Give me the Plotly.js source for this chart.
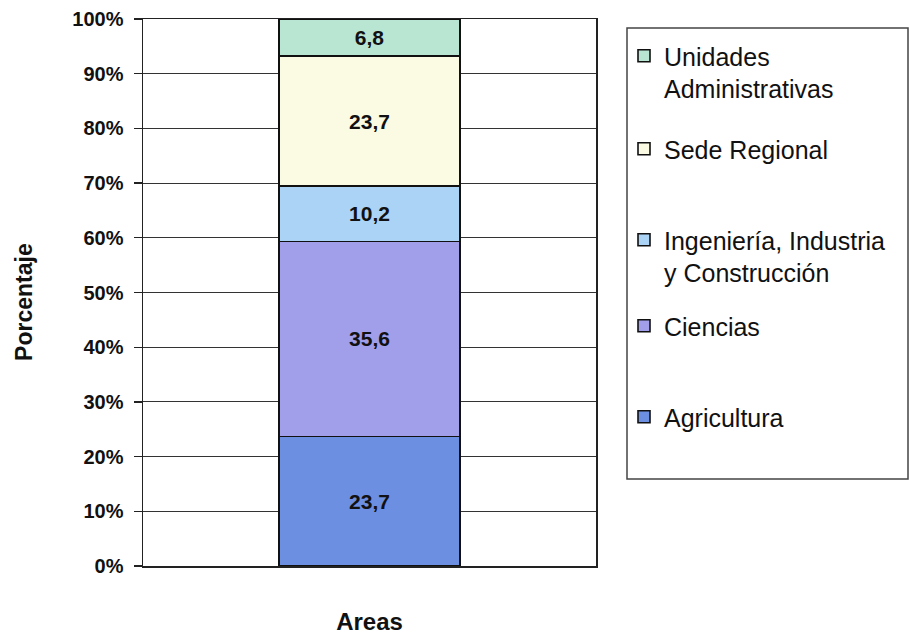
<!DOCTYPE html>
<html>
<head>
<meta charset="utf-8">
<script src="https://cdn.plot.ly/plotly-3.0.1.min.js"></script>
<style>html,body{margin:0;padding:0;background:#fff;}#chart{width:910px;height:637px;}</style>
</head>
<body>
<div id="chart"></div>
<script>
// Data
const categories = ['Areas'];
const seriesNames = ['Agricultura', 'Ciencias', 'Ingeniería, Industria<br>y Construcción', 'Sede Regional', 'Unidades<br>Administrativas'];
const agricultura = [23.7];
const ciencias = [35.6];
const ingenieria = [10.2];
const sedeRegional = [23.7];
const unidades = [6.8];
const seriesValues = [agricultura, ciencias, ingenieria, sedeRegional, unidades];
const yTickVals = [0, 10, 20, 30, 40, 50, 60, 70, 80, 90, 100];
const yTickText = ['0%', '10%', '20%', '30%', '40%', '50%', '60%', '70%', '80%', '90%', '100%'];

const colors = ['#6d8fe2', '#a19eea', '#aad3f6', '#fbfbe3', '#b9e5d3'];
const legendIds = ['legend5', 'legend4', 'legend3', 'legend2', 'legend'];
const FONT = 'Liberation Sans, Arial, sans-serif';

const traces = seriesValues.map((vals, i) => ({
  type: 'bar',
  name: seriesNames[i],
  x: categories,
  y: vals,
  legend: legendIds[i],
  marker: {color: colors[i], line: {color: '#111', width: 1.6}},
  texttemplate: '<b>%{y:.1f}</b>',
  textposition: 'inside',
  insidetextanchor: 'middle',
  textangle: 0,
  constraintext: 'none',
  textfont: {family: FONT, size: 21, color: '#111'},
  hoverinfo: 'name+y'
}));

// pixel -> paper helpers for legend placement (plot area 143..596 x 19..566)
const px = X => (X - 143) / 453;
const py = Y => (566 - Y) / 547;
const legTops = {legend: 33, legend2: 126, legend3: 217, legend4: 303, legend5: 394};
const legendCommon = {
  x: px(624), xanchor: 'left', yanchor: 'top',
  bgcolor: 'rgba(0,0,0,0)', borderwidth: 0,
  font: {family: FONT, size: 25, color: '#111'},
  valign: 'top', itemclick: false, itemdoubleclick: false
};
const layout = {
  width: 910, height: 637,
  margin: {l: 143, r: 314, t: 19, b: 71},
  paper_bgcolor: '#fff', plot_bgcolor: '#fff',
  separators: ',.',
  barmode: 'stack',
  bargap: 0.6,
  font: {family: FONT, color: '#111'},
  xaxis: {
    showticklabels: false, ticks: '',
    showline: true, linecolor: '#222', linewidth: 1.5, mirror: true,
    showgrid: false, fixedrange: true,
    title: {text: '<b>Areas</b>', font: {family: FONT, size: 24, color: '#111'}, standoff: 46}
  },
  yaxis: {
    range: [0, 100], tickvals: yTickVals, ticktext: yTickText.map(t => '<b>' + t + '</b>'),
    ticks: 'outside', ticklen: 8, tickcolor: '#222', tickwidth: 1.3,
    tickfont: {family: FONT, size: 20, color: '#111'},
    ticklabelstandoff: 6,
    showline: true, linecolor: '#222', linewidth: 1.5, mirror: true,
    showgrid: true, gridcolor: '#333', gridwidth: 1,
    zeroline: false, fixedrange: true,
    title: {text: '<b>Porcentaje&nbsp;&nbsp;&nbsp;</b>', font: {family: FONT, size: 23, color: '#111'}, standoff: 33}
  },
  shapes: [{
    type: 'rect', xref: 'paper', yref: 'paper',
    x0: px(627), x1: px(908), y0: py(479), y1: py(28),
    line: {color: '#444', width: 1.5}, fillcolor: 'rgba(0,0,0,0)', layer: 'below'
  }],
  showlegend: true
};
Object.keys(legTops).forEach(k => {
  layout[k] = Object.assign({}, legendCommon, {y: py(legTops[k])});
});

Plotly.newPlot('chart', traces, layout, {displayModeBar: false, staticPlot: true});
</script>
</body>
</html>
